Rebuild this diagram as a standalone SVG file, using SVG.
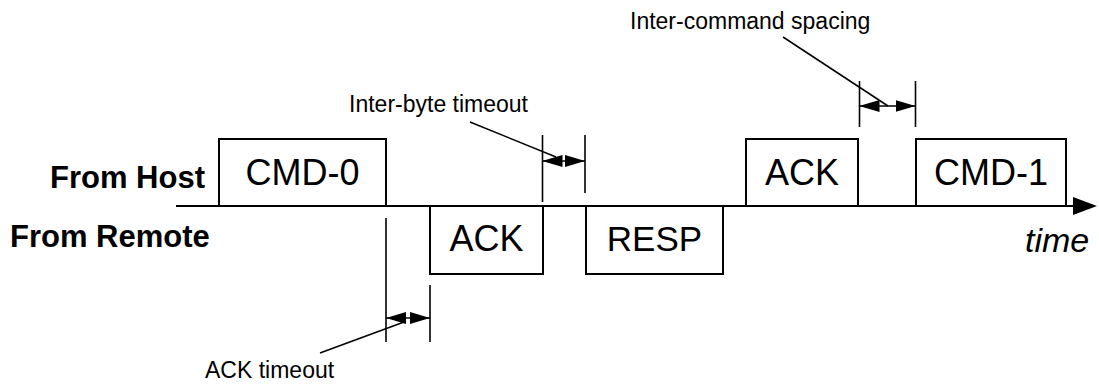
<svg xmlns="http://www.w3.org/2000/svg" width="1099" height="387" viewBox="0 0 1099 387">
<style>
.box{fill:#fff;stroke:#000;stroke-width:2}
.lbl{font-family:"Liberation Sans",Arial,sans-serif;font-size:36px;text-anchor:middle;fill:#000}
.side{font-family:"Liberation Sans",Arial,sans-serif;font-size:31px;font-weight:bold;fill:#000}
.note{font-family:"Liberation Sans",Arial,sans-serif;font-size:23px;fill:#000}
.tick{stroke:#000;stroke-width:1.6}
.lead{stroke:#000;stroke-width:1.5}
.dim{stroke:#000;stroke-width:1.5;marker-start:url(#ah);marker-end:url(#ah)}
</style>
<defs>
<marker id="ah" viewBox="0 0 20 12" refX="20" refY="6" markerWidth="20" markerHeight="12" markerUnits="userSpaceOnUse" orient="auto-start-reverse">
<path d="M0,0 L20,6 L0,12 Z" fill="#000"/>
</marker>
<marker id="big" viewBox="0 0 24 18" refX="2" refY="9" markerWidth="24" markerHeight="18" markerUnits="userSpaceOnUse" orient="auto">
<path d="M0,0 L24,9 L0,18 Z" fill="#000"/>
</marker>
</defs>
<g id="connectors">
<line x1="176" y1="206" x2="1075" y2="206" stroke="#000" stroke-width="2" marker-end="url(#big)"/>
<line class="tick" x1="386" y1="218" x2="386" y2="342"/>
<line class="tick" x1="430" y1="285" x2="430" y2="342"/>
<line class="dim" x1="386" y1="318" x2="430" y2="318"/>
<line class="lead" x1="320" y1="353" x2="404" y2="322"/>
<line class="tick" x1="542.5" y1="135" x2="542.5" y2="202"/>
<line class="tick" x1="585" y1="135" x2="585" y2="193"/>
<line class="dim" x1="542.5" y1="161" x2="585" y2="161"/>
<line class="lead" x1="470" y1="122" x2="556" y2="157"/>
<line class="tick" x1="859.5" y1="81" x2="859.5" y2="127"/>
<line class="tick" x1="915.5" y1="81" x2="915.5" y2="127"/>
<line class="dim" x1="859.5" y1="106" x2="915.5" y2="106" stroke="#555"/>
<line class="lead" x1="783" y1="37" x2="888" y2="106"/>
</g>
<g id="side-labels">
<text class="side" x="50" y="188">From Host</text>
<text class="side" x="10" y="247">From Remote</text>
</g>
<g id="cmd0">
<rect class="box" x="219" y="139" width="167" height="67"/>
<text class="lbl" x="302.5" y="185">CMD-0</text>
</g>
<g id="ack-remote">
<rect class="box" x="430" y="206" width="113" height="68"/>
<text class="lbl" x="486.5" y="251">ACK</text>
</g>
<g id="resp">
<rect class="box" x="586" y="206" width="137" height="68"/>
<text class="lbl" x="654.5" y="251" style="font-size:35px">RESP</text>
</g>
<g id="ack-host">
<rect class="box" x="746" y="139" width="112" height="67"/>
<text class="lbl" x="802" y="185">ACK</text>
</g>
<g id="cmd1">
<rect class="box" x="916" y="139" width="150" height="67"/>
<text class="lbl" x="991" y="185">CMD-1</text>
</g>
<g id="notes">
<text class="note" x="205" y="378">ACK timeout</text>
<text class="note" x="528" y="112" text-anchor="end">Inter-byte timeout</text>
<text class="note" x="630" y="29">Inter-command spacing</text>
<text x="1025" y="252" style="font-family:'Liberation Sans',Arial,sans-serif;font-size:34px;font-style:italic">time</text>
</g>
</svg>
